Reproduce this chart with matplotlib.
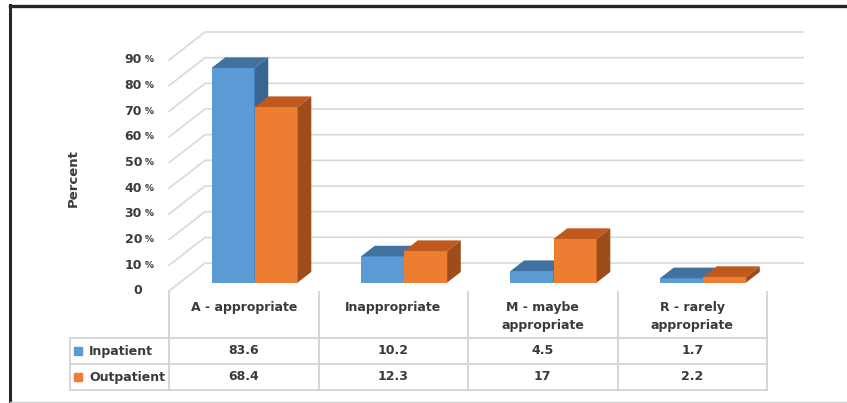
import matplotlib
matplotlib.use("Agg")
import matplotlib.pyplot as plt
from matplotlib.patches import Polygon
from matplotlib.lines import Line2D
from matplotlib.transforms import offset_copy

# data
categories = ["A - appropriate", "Inappropriate", "M - maybe\nappropriate", "R - rarely\nappropriate"]
series_names = ["Inpatient", "Outpatient"]
inpatient = [83.6, 10.2, 4.5, 1.7]
outpatient = [68.4, 12.3, 17, 2.2]
y_ticks = [0, 10, 20, 30, 40, 50, 60, 70, 80, 90]

# colours: front, top, side
blue = ("#5b9bd5", "#41719f", "#386591")
orange = ("#ed7d31", "#c0591d", "#9f4c1b")
grid_col = "#d9d9d9"
text_col = "#3a3a3a"

# 3d look: depth of the box and of the bars (fraction of depth)
DX, DY = 0.241, 10.9
F0, F1 = 0.30, 0.68
W = 0.288

plt.rcParams['font.family'] = ['DejaVu Sans']
fig = plt.figure(figsize=(8.47, 4.03), dpi=100)
fig.patch.set_facecolor("white")

ax = fig.add_axes([169 / 847, (403 - 291) / 403, (803 - 169) / 847, (291 - 32) / 403])
ax.set_xlim(-0.5, len(categories) - 0.5 + DX)
ax.set_ylim(0, y_ticks[-1] + DY)
ax.axis("off")

# left wall + back wall gridlines
for v in y_ticks:
    ax.plot([-0.5, -0.5 + DX, len(categories) - 0.5 + DX], [v, v + DY, v + DY],
            color=grid_col, lw=1.2, zorder=0, clip_on=False)

dx = DX * (F1 - F0)
dy = DY * (F1 - F0)
base = DY * F0
z = 2
for i in range(len(categories)):
    for vals, cols, shift in [(inpatient, blue, -W), (outpatient, orange, 0)]:
        h = vals[i]
        x0 = i + shift + DX * F0
        ax.bar(x0, h, width=W, bottom=base, align="edge", color=cols[0],
               linewidth=0, zorder=z, clip_on=False)
        top = [(x0, base + h), (x0 + W, base + h), (x0 + W + dx, base + h + dy), (x0 + dx, base + h + dy)]
        side = [(x0 + W, base), (x0 + W + dx, base + dy), (x0 + W + dx, base + h + dy), (x0 + W, base + h)]
        ax.add_patch(Polygon(top, closed=True, facecolor=cols[1], lw=0, zorder=z + 1, clip_on=False))
        ax.add_patch(Polygon(side, closed=True, facecolor=cols[2], lw=0, zorder=z + 1, clip_on=False))
        z += 2

# y tick labels
for v in y_ticks:
    num_tr = offset_copy(ax.transData, fig=fig, x=-27, y=0, units="dots")
    ax.text(-0.5, v, str(v), transform=num_tr, ha="right", va="center",
            fontsize=9, fontweight="bold", color=text_col)
    if v > 0:
        pct_tr = offset_copy(ax.transData, fig=fig, x=-15, y=0, units="dots")
        ax.text(-0.5, v, "%", transform=pct_tr, ha="right", va="center",
                fontsize=6.5, fontweight="bold", color=text_col)

fig.text(73 / 847, 1 - 178 / 403, "Percent", rotation=90, ha="center", va="center",
         fontsize=9.5, fontweight="bold", color=text_col)

# data table under the chart
ROW_H, HEAD_H = 26, 46
tax = fig.add_axes([70 / 847, (403 - 390) / 403, (767 - 70) / 847, (390 - 292) / 403])
left = -0.5 - 99 / 149.5
tax.set_xlim(left, len(categories) - 0.5)
tax.set_ylim(0, 2 * ROW_H + HEAD_H)
tax.axis("off")

tline = dict(color="#d3d3d3", lw=1.3, clip_on=False)
for k in range(len(categories) + 1):
    tax.plot([k - 0.5, k - 0.5], [0, 2 * ROW_H + HEAD_H], **tline)
tax.plot([left, left], [0, 2 * ROW_H], **tline)
for yy in [0, ROW_H, 2 * ROW_H]:
    tax.plot([left, len(categories) - 0.5], [yy, yy], **tline)

for i, cat in enumerate(categories):
    tax.text(i, 2 * ROW_H + HEAD_H - 9, cat, ha="center", va="top", linespacing=1.45,
             fontsize=9, fontweight="bold", color=text_col)

for r, (name, vals, cols) in enumerate([(series_names[0], inpatient, blue),
                                         (series_names[1], outpatient, orange)]):
    yc = (1.5 - r) * ROW_H
    tax.plot([left + 8 / 149.5], [yc], marker="s", markersize=5.5, color=cols[0],
             linestyle="none", clip_on=False)
    tax.text(left + 19 / 149.5, yc, name, ha="left", va="center",
             fontsize=9, fontweight="bold", color=text_col)
    for i, v in enumerate(vals):
        tax.text(i, yc, f"{v:g}", ha="center", va="center",
                 fontsize=9, fontweight="bold", color=text_col)

# frame around the picture
fig.add_artist(Line2D([10 / 847, 10 / 847], [0, 1 - 5 / 403], transform=fig.transFigure,
                      color="#262626", lw=2.2))
fig.add_artist(Line2D([10 / 847, 1], [1 - 5.5 / 403, 1 - 5.5 / 403], transform=fig.transFigure,
                      color="#262626", lw=2.4))
fig.add_artist(Line2D([10 / 847, 1], [1.5 / 403, 1.5 / 403], transform=fig.transFigure,
                      color="#cfcfcf", lw=1))

fig.savefig("out.png", dpi=100)
